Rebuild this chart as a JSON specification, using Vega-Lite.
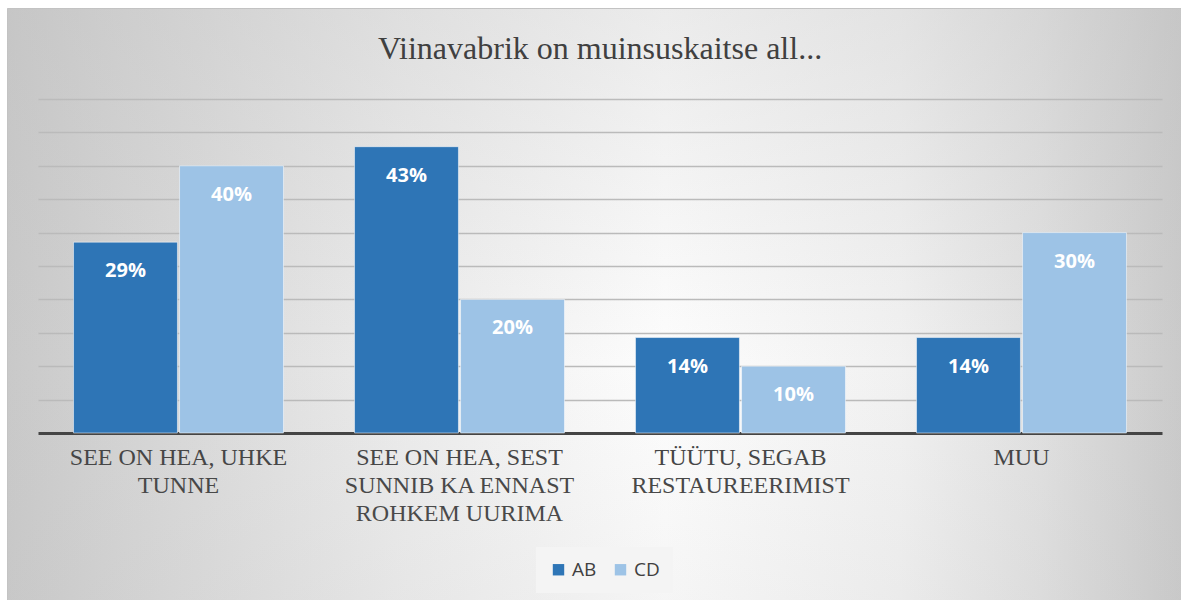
{
  "$schema": "https://vega.github.io/schema/vega-lite/v6.json",
  "width": 1174,
  "height": 592,
  "autosize": {"type": "none"},
  "padding": {"left": 7, "top": 8, "right": 0, "bottom": 0},
  "background": "#ffffff",
  "view": {
    "fill": {
      "gradient": "linear",
      "x1": 0, "y1": 0, "x2": 1, "y2": 0,
      "stops": [
        {"offset": 0, "color": "#c9c9c9"},
        {"offset": 0.1, "color": "#d4d4d4"},
        {"offset": 0.33, "color": "#ebebeb"},
        {"offset": 0.56, "color": "#fdfdfd"},
        {"offset": 0.76, "color": "#f1f1f1"},
        {"offset": 0.88, "color": "#e0e0e0"},
        {"offset": 1, "color": "#cacaca"}
      ]
    },
    "stroke": "#c4c4c4",
    "strokeWidth": 1
  },
  "title": {
    "text": "Viinavabrik on muinsuskaitse all...",
    "font": "Liberation Serif",
    "fontSize": 32,
    "fontWeight": "normal",
    "color": "#404040",
    "anchor": "middle",
    "offset": -58,
    "dx": 6
  },
  "layer": [
    {
      "data": {"values": [{}]},
      "mark": {
        "type": "rect",
        "fill": {
          "gradient": "linear",
          "x1": 0, "y1": 0, "x2": 0, "y2": 1,
          "stops": [
            {"offset": 0, "color": "rgba(190,190,190,0.28)"},
            {"offset": 0.6, "color": "rgba(190,190,190,0)"},
            {"offset": 1, "color": "rgba(190,190,190,0.12)"}
          ]
        }
      },
      "encoding": {}
    },
    {
      "data": {
        "values": [
          {"category": "SEE ON HEA, UHKE TUNNE", "series": "AB", "value": 0.2857},
          {"category": "SEE ON HEA, UHKE TUNNE", "series": "CD", "value": 0.40},
          {"category": "SEE ON HEA, SEST SUNNIB KA ENNAST ROHKEM UURIMA", "series": "AB", "value": 0.4286},
          {"category": "SEE ON HEA, SEST SUNNIB KA ENNAST ROHKEM UURIMA", "series": "CD", "value": 0.20},
          {"category": "TÜÜTU, SEGAB RESTAUREERIMIST", "series": "AB", "value": 0.1429},
          {"category": "TÜÜTU, SEGAB RESTAUREERIMIST", "series": "CD", "value": 0.10},
          {"category": "MUU", "series": "AB", "value": 0.1429},
          {"category": "MUU", "series": "CD", "value": 0.30}
        ]
      },
      "encoding": {
        "x": {
          "field": "category",
          "type": "nominal",
          "sort": ["SEE ON HEA, UHKE TUNNE", "SEE ON HEA, SEST SUNNIB KA ENNAST ROHKEM UURIMA", "TÜÜTU, SEGAB RESTAUREERIMIST", "MUU"],
          "scale": {"range": [31, 1155], "paddingInner": 0, "paddingOuter": 0},
          "axis": {
            "title": null,
            "orient": "bottom",
            "offset": -167,
            "domainColor": "#404040",
            "domainWidth": 3,
            "ticks": false,
            "tickSize": 0,
            "grid": false,
            "labelAngle": 0,
            "labelFont": "Liberation Serif",
            "labelFontSize": 24,
            "labelColor": "#404040",
            "labelLineHeight": 28,
            "labelPadding": 12,
            "labelLimit": 0,
            "labelOverlap": false,
            "labelExpr": "datum.value == 'SEE ON HEA, UHKE TUNNE' ? ['SEE ON HEA, UHKE', 'TUNNE'] : datum.value == 'SEE ON HEA, SEST SUNNIB KA ENNAST ROHKEM UURIMA' ? ['SEE ON HEA, SEST', 'SUNNIB KA ENNAST', 'ROHKEM UURIMA'] : datum.value == 'TÜÜTU, SEGAB RESTAUREERIMIST' ? ['TÜÜTU, SEGAB', 'RESTAUREERIMIST'] : datum.value"
          }
        },
        "xOffset": {
          "field": "series",
          "type": "nominal",
          "sort": ["AB", "CD"],
          "scale": {"paddingInner": 0.02, "paddingOuter": 0.335}
        },
        "y": {
          "field": "value",
          "type": "quantitative",
          "scale": {"domain": [0, 0.5], "range": [425, 91], "nice": false, "zero": false},
          "axis": {
            "title": null,
            "values": [0.05, 0.1, 0.15, 0.2, 0.25, 0.3, 0.35, 0.4, 0.45, 0.5],
            "labels": false,
            "ticks": false,
            "domain": false,
            "grid": true,
            "gridColor": "#bababa",
            "gridWidth": 1.4
          }
        }
      },
      "layer": [
        {
          "mark": {"type": "bar", "stroke": "#ffffff", "strokeWidth": 1, "strokeOpacity": 0.5},
          "encoding": {
            "color": {
              "field": "series",
              "type": "nominal",
              "scale": {"domain": ["AB", "CD"], "range": ["#2E75B6", "#9DC3E6"]},
              "legend": {
                "title": null,
                "orient": "none",
                "legendX": 529,
                "legendY": 539,
                "direction": "horizontal",
                "symbolType": "square",
                "symbolSize": 130,
                "symbolStrokeWidth": 0,
                "labelFont": "Open Sans",
                "labelFontSize": 19,
                "labelColor": "#404040",
                "labelOffset": 4,
                "columnPadding": 14,
                "fillColor": "#f4f4f4",
                "padding": 13
              }
            }
          }
        },
        {
          "mark": {"type": "text", "baseline": "alphabetic", "dy": 35, "font": "Open Sans", "fontWeight": "bold", "fontSize": 20, "color": "#ffffff"},
          "encoding": {
            "text": {"field": "value", "type": "quantitative", "format": ".0%"}
          }
        }
      ]
    }
  ]
}
